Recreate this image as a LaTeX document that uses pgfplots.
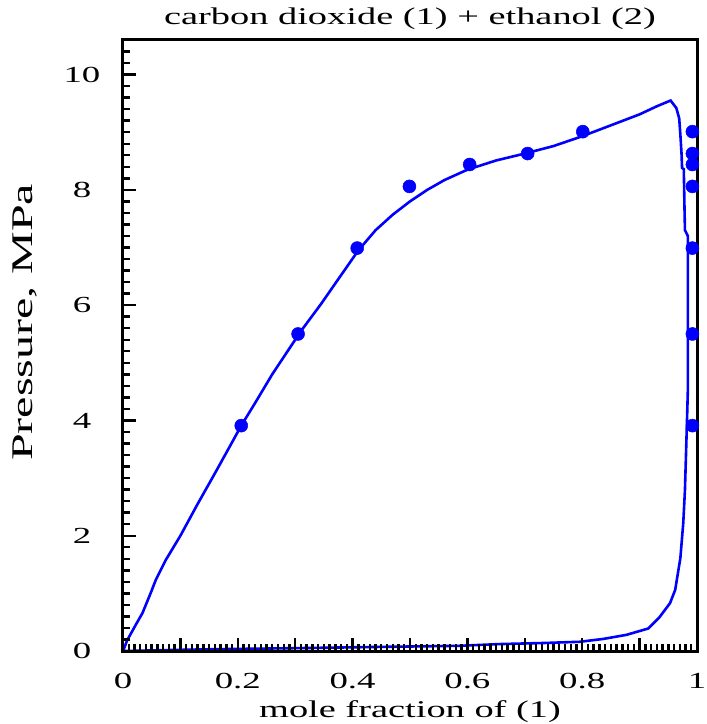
\documentclass[border=0pt]{standalone}
\usepackage{pgfplots}
\pgfplotsset{compat=1.18}
\usepackage{fontspec}
\setmainfont{Liberation Serif}[FakeStretch=1.6]
\definecolor{cblue}{RGB}{0,0,255}
\begin{document}
\begin{tikzpicture}
\begin{axis}[
  at={(0pt,0pt)}, anchor=south west,
  width=574pt, height=611pt, scale only axis,
  axis on top,
  xmin=0, xmax=1, ymin=0, ymax=10.6,
  axis line style={line width=3pt, draw=black},
  xtick pos=bottom, ytick pos=left,
  xtick align=inside, ytick align=inside,
  xtick={0,0.1,...,1.01},
  xticklabels={0,,0.2,,0.4,,0.6,,0.8,,1},
  minor xtick={0,0.01,...,1.001},
  ytick={0,2,4,6,8,10},
  minor ytick={0,0.2,...,10.5},
  major tick length=13pt,
  minor tick length=7.5pt,
  every tick/.append style={draw=black, line width=2.4pt},
  xticklabel style={font=\fontsize{23}{27}\selectfont, inner sep=0pt, anchor=north, yshift=-22pt},
  yticklabel style={font=\fontsize{23}{27}\selectfont, inner sep=0pt, anchor=center, xshift=-41pt},
  /pgf/number format/assume math mode=true,
  title={carbon dioxide (1) + ethanol (2)},
  title style={font=\fontsize{24}{28}\selectfont, at={(axis description cs:0.5,1)}, anchor=base, yshift=9pt, inner sep=0pt},
  xlabel={mole fraction of (1)},
  xlabel style={font=\fontsize{24}{28}\selectfont, at={(axis description cs:0.5,0)}, anchor=base, yshift=-66pt, inner sep=0pt},
  ylabel={Pressure, MPa},
  ylabel style={font=\fontsize{30}{34}\selectfont, at={(axis description cs:-0.1568,0.538)}, anchor=base, inner sep=0pt},
]
\addplot[cblue, line width=2.6pt, no markers] coordinates {
(0,0) (0.0075,0.19) (0.022,0.45) (0.034,0.66) (0.048,1.0) (0.057,1.23)
(0.074,1.57) (0.10,2.0) (0.13,2.55) (0.16,3.08) (0.19,3.62) (0.206,3.91)
(0.23,4.3) (0.26,4.8) (0.29,5.25) (0.31,5.55) (0.345,6.02) (0.375,6.45)
(0.41,6.95) (0.44,7.3) (0.47,7.57) (0.50,7.8) (0.53,8.0) (0.56,8.17)
(0.60,8.35) (0.65,8.51) (0.70,8.63) (0.75,8.76) (0.80,8.93) (0.85,9.12)
(0.90,9.31) (0.93,9.45) (0.954,9.55) (0.964,9.42) (0.969,9.24) (0.971,8.96)
(0.973,8.64) (0.974,8.38) (0.977,8.36) (0.978,7.8) (0.979,7.3) (0.984,7.2)
(0.984,4.5) (0.982,3.8) (0.979,2.79) (0.976,2.21) (0.971,1.61) (0.962,1.06)
(0.953,0.83) (0.935,0.59) (0.915,0.39) (0.877,0.28) (0.837,0.21) (0.796,0.16)
(0.737,0.14) (0.656,0.12) (0.586,0.09) (0.441,0.07) (0.307,0.05) (0.15,0.03) (0,0)
};
\addplot[only marks, mark=*, mark size=6.5pt, cblue, mark options={fill=cblue, draw=cblue, line width=0.5pt}] coordinates {
(0.206,3.91) (0.305,5.50) (0.408,6.99) (0.499,8.06) (0.604,8.44) (0.705,8.63) (0.801,9.01)
};
\addplot[only marks, mark=*, mark size=6.5pt, cblue, mark options={fill=cblue, draw=cblue, line width=0.5pt}] coordinates {
(0.992,3.91) (0.992,5.50) (0.992,6.99) (0.992,8.06) (0.992,8.44) (0.992,8.63) (0.992,9.01)
};
\end{axis}
\useasboundingbox (-123pt,-73pt) rectangle (578pt,651pt);
\end{tikzpicture}
\end{document}
